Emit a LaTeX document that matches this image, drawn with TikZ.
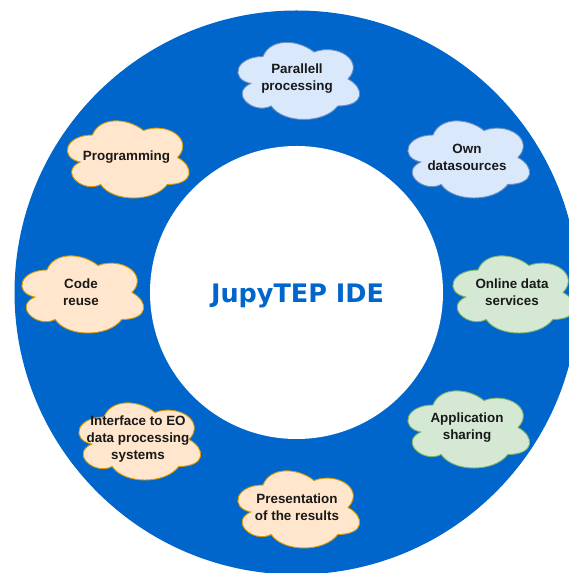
\documentclass[tikz,border=0pt]{standalone}
\usepackage{fontspec}
\setmainfont{Liberation Sans}
\newfontfamily\titlefont{DejaVu Sans}
\begin{document}
\begin{tikzpicture}[x=1pt,y=1pt,
  ringblue/.style={fill=ringcol,draw=none},
  hole/.style={circle,fill=white,draw=none,minimum size=293pt,inner sep=0pt},
  title/.style={font=\titlefont\bfseries\fontsize{25.5}{30}\selectfont,text=ringcol,anchor=base},
  cloudtext/.style={align=center,text=black!90,inner sep=0pt,
    font=\fontsize{13.4}{17}\selectfont\bfseries},
  cloudblue/.style={fill=bluefill,draw=bluestroke,line width=0.9pt},
  cloudorange/.style={fill=orangefill,draw=orangestroke,line width=0.9pt},
  cloudgreen/.style={fill=greenfill,draw=greenstroke,line width=0.9pt},
  pics/puffcloud/.style={code={
    \path[pic actions] (-34,22.5)
      .. controls (-61.2,22.5) and (-68,0) .. (-46.24,-4.5)
      .. controls (-68,-14.4) and (-43.52,-36) .. (-25.84,-27)
      .. controls (-13.6,-45) and (27.2,-45) .. (40.8,-27)
      .. controls (68,-27) and (68,-9) .. (51,0)
      .. controls (68,18) and (40.8,36) .. (17,27)
      .. controls (0,40.5) and (-27.2,40.5) .. (-34,22.5) -- cycle;
  }}]
\definecolor{ringcol}{HTML}{0066CC}
\definecolor{bluefill}{HTML}{DAE8FC}
\definecolor{bluestroke}{HTML}{6C8EBF}
\definecolor{orangefill}{HTML}{FFE6CC}
\definecolor{orangestroke}{HTML}{D79B00}
\definecolor{greenfill}{HTML}{D5E8D4}
\definecolor{greenstroke}{HTML}{82B366}

\useasboundingbox (0,0) rectangle (569,573);
\clip (0,0) rectangle (569,573);

% ring with white centre
\fill[ringblue] (296.5,280.5) circle[radius=282];
\node[hole] (centre) at (296.5,280.5) {};
\node[title] (ide) at (297.5,270) {JupyTEP IDE};

% surrounding clouds
\pic[cloudblue] at (297,494) {puffcloud};
\node[cloudtext] (par) at (297,494) {Parallell\\processing};

\pic[cloudblue] at (467,415.5) {puffcloud};
\node[cloudtext] (own) at (467,415.5) {Own\\datasources};

\pic[cloudorange] at (126.5,415.5) {puffcloud};
\node[cloudtext] (prog) at (126.5,415.5) {Programming};

\pic[cloudorange] at (81,280.5) {puffcloud};
\node[cloudtext] (reuse) at (81,280.5) {Code\\reuse};

\pic[cloudgreen] at (512,280.5) {puffcloud};
\node[cloudtext] (online) at (512,280.5) {Online data\\services};

\pic[cloudorange] at (138,133.5) {puffcloud};
\node[cloudtext] (eo) at (138,133.5) {Interface to EO\\data processing\\systems};

\pic[cloudgreen] at (467,145.5) {puffcloud};
\node[cloudtext] (share) at (467,145.5) {Application\\sharing};

\pic[cloudorange] at (297,65.5) {puffcloud};
\node[cloudtext] (pres) at (297,65.5) {Presentation\\of the results};
\end{tikzpicture}
\end{document}
